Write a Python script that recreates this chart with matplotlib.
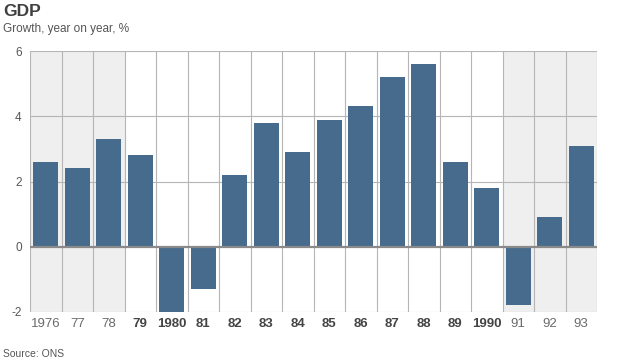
import matplotlib
matplotlib.use("Agg")
import matplotlib.pyplot as plt
import numpy as np

# data
years = ["1976", "77", "78", "79", "1980", "81", "82", "83", "84",
         "85", "86", "87", "88", "89", "1990", "91", "92", "93"]
growth = [2.6, 2.4, 3.3, 2.8, -2.1, -1.3, 2.2, 3.8, 2.9,
          3.9, 4.3, 5.2, 5.6, 2.6, 1.8, -1.8, 0.9, 3.1]
shaded = [True, True, True, False, False, False, False, False, False,
          False, False, False, False, False, False, True, True, True]

plt.rcParams['font.family'] = ['Liberation Sans', 'DejaVu Sans']

fig = plt.figure(figsize=(6.24, 3.63), dpi=100)
ax = fig.add_axes([30/624, 1-312/363, 567/624, 261/363])

x = np.arange(len(years))
# shaded background columns
for i, s in enumerate(shaded):
    if s:
        ax.axvspan(i-0.5, i+0.5, color="#efefef", zorder=0, lw=0)

# grid lines
for b in np.arange(-0.5, len(years), 1.0):
    ax.axvline(b, color="#b5b5b5", lw=0.8, zorder=1)
for v in [-2, 2, 4, 6]:
    ax.axhline(v, color="#b5b5b5", lw=0.8, zorder=1)

ax.bar(x, growth, width=0.78, color="#476b8c", zorder=2)
ax.axhline(0, color="#8a8a8a", lw=1.6, zorder=3)

ax.set_xlim(-0.5, len(years)-0.5)
ax.set_ylim(-2, 6)
for sp in ax.spines.values():
    sp.set_visible(False)

ax.set_yticks([-2, 0, 2, 4, 6])
ax.set_yticklabels(["-2", "0", "2", "4", "6"], fontsize=8.5, color="#555555")
ax.tick_params(axis="y", length=0, pad=6)
ax.set_xticks(x)
ax.set_xticklabels(years, fontsize=9.5)
ax.tick_params(axis="x", length=0, pad=4)
for lab, s in zip(ax.get_xticklabels(), shaded):
    if s:
        lab.set_color("#6a6a6a")
    else:
        lab.set_color("#444444")
        lab.set_fontweight("bold")

fig.text(3/624, 1-12/363, "GDP", fontsize=12.5, fontweight="bold", color="#404040", va="center")
fig.text(3/624, 1-29/363, "Growth, year on year, %", fontsize=8.5, color="#555555", va="center")
fig.text(3/624, 1-354/363, "Source: ONS", fontsize=7.5, color="#555555", va="center")

plt.savefig("out.png", dpi=100)
